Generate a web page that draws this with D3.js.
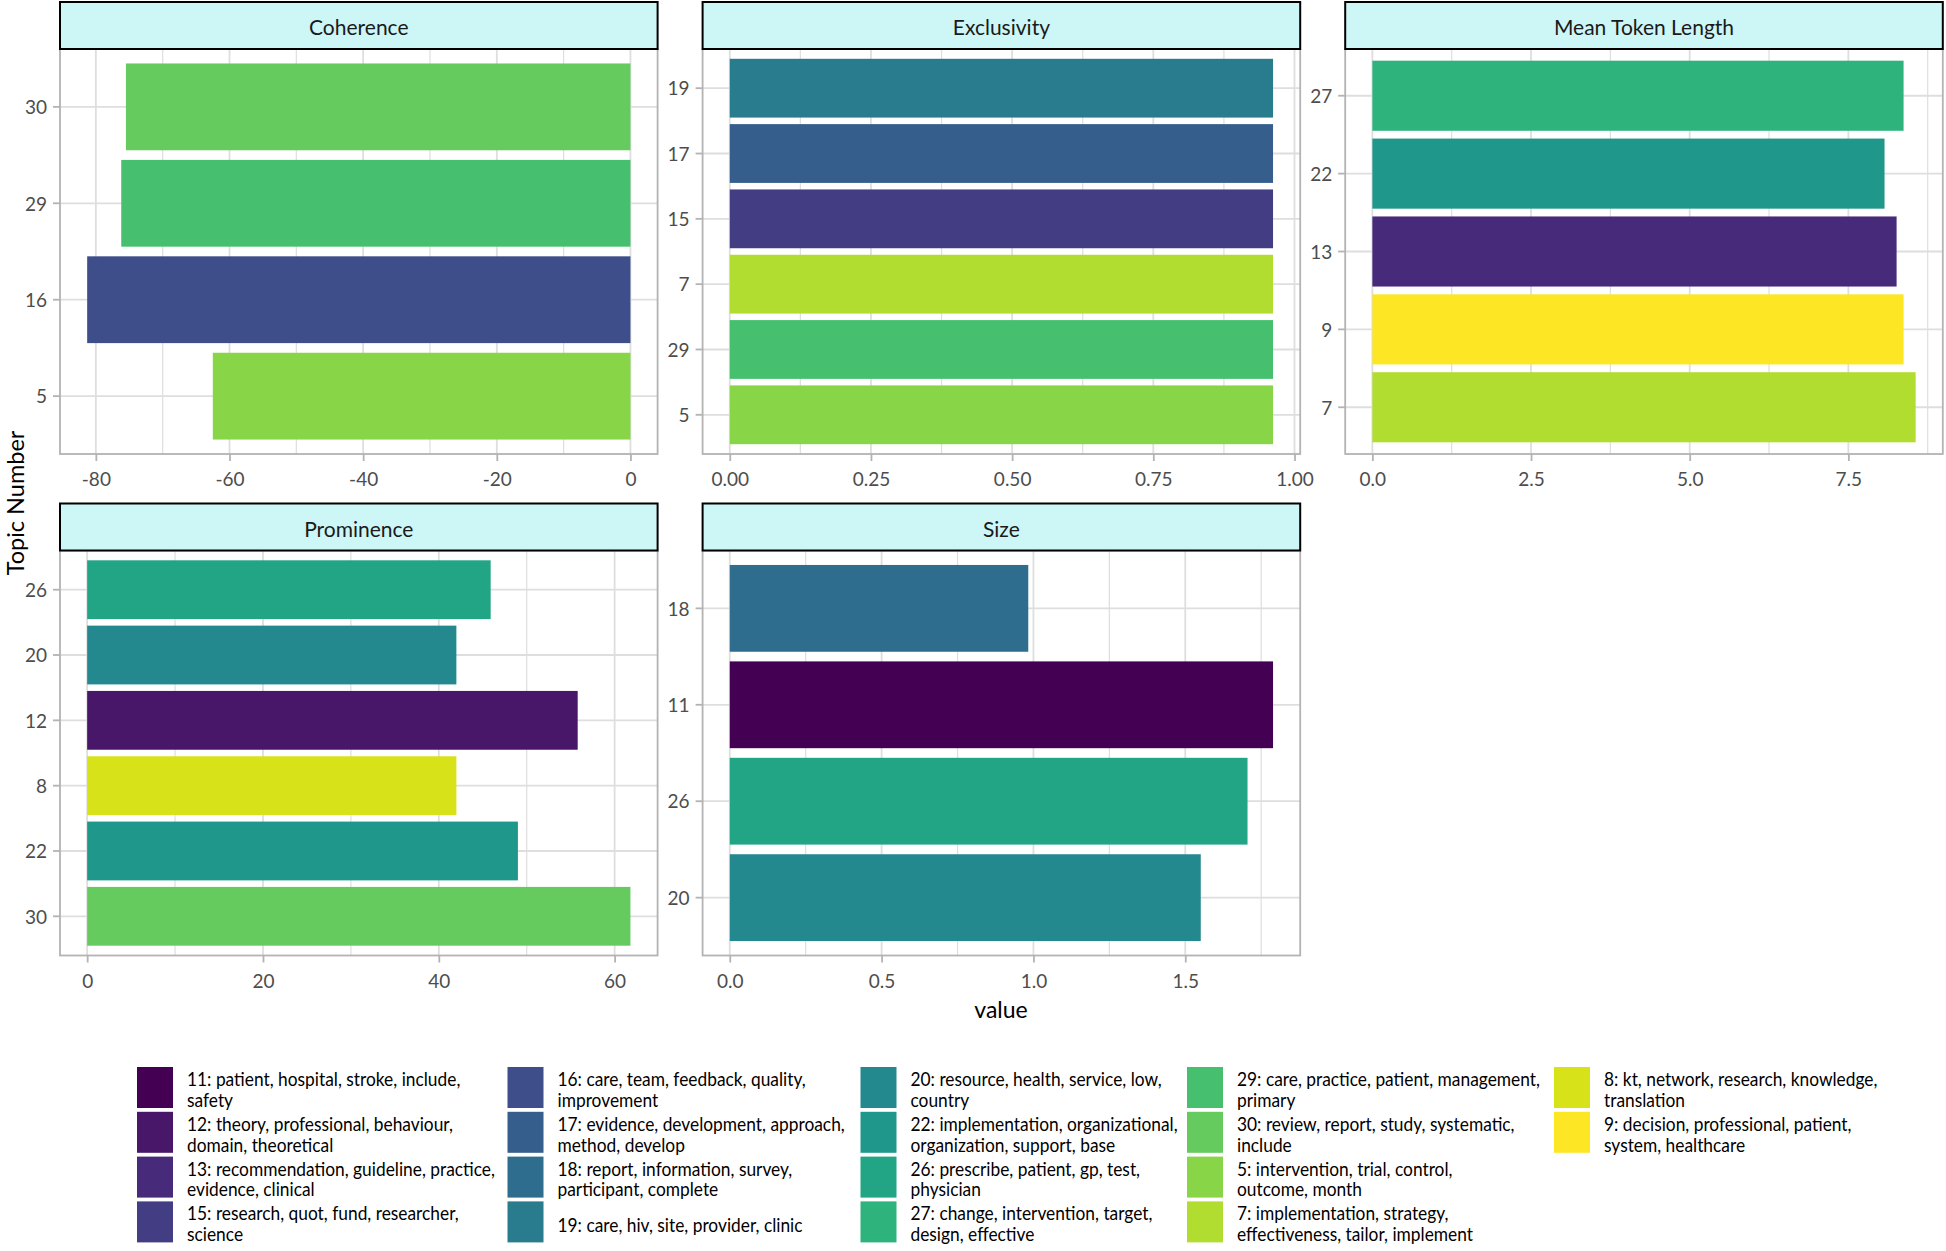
<!DOCTYPE html>
<html><head><meta charset="utf-8">
<script src="https://cdn.jsdelivr.net/npm/d3@7"></script>
<style>
html,body{margin:0;padding:0;background:#fff;}
svg{display:block;font-family:Lato,"Open Sans",sans-serif;}
</style>
</head><body>
<svg id="chart" width="1946" height="1251"></svg>
<script>
// ---------- DATA (topics listed top to bottom in each facet) ----------
const coherenceTopics = ["30", "29", "16", "5"];
const coherenceValues = [-75.5, -76.2, -81.3, -62.5];
const coherenceTicks = [-80, -60, -40, -20, 0];
const coherenceTickLabels = ["-80", "-60", "-40", "-20", "0"];

const exclusivityTopics = ["19", "17", "15", "7", "29", "5"];
const exclusivityValues = [0.962, 0.962, 0.962, 0.962, 0.962, 0.962];
const exclusivityTicks = [0, 0.25, 0.5, 0.75, 1];
const exclusivityTickLabels = ["0.00", "0.25", "0.50", "0.75", "1.00"];

const mtlTopics = ["27", "22", "13", "9", "7"];
const mtlValues = [8.37, 8.07, 8.26, 8.37, 8.56];
const mtlTicks = [0, 2.5, 5, 7.5];
const mtlTickLabels = ["0.0", "2.5", "5.0", "7.5"];

const prominenceTopics = ["26", "20", "12", "8", "22", "30"];
const prominenceValues = [45.9, 42.0, 55.8, 42.0, 49.0, 61.8];
const prominenceTicks = [0, 20, 40, 60];
const prominenceTickLabels = ["0", "20", "40", "60"];

const sizeTopics = ["18", "11", "26", "20"];
const sizeValues = [0.983, 1.789, 1.705, 1.551];
const sizeTicks = [0, 0.5, 1, 1.5];
const sizeTickLabels = ["0.0", "0.5", "1.0", "1.5"];

const facetTitles = ["Coherence", "Exclusivity", "Mean Token Length", "Prominence", "Size"];

const legendTopics = ["11","12","13","15","16","17","18","19","20","22","26","27","29","30","5","7","8","9"];
const legendLabels = [
  ["11: patient, hospital, stroke, include,", "safety"],
  ["12: theory, professional, behaviour,", "domain, theoretical"],
  ["13: recommendation, guideline, practice,", "evidence, clinical"],
  ["15: research, quot, fund, researcher,", "science"],
  ["16: care, team, feedback, quality,", "improvement"],
  ["17: evidence, development, approach,", "method, develop"],
  ["18: report, information, survey,", "participant, complete"],
  ["19: care, hiv, site, provider, clinic"],
  ["20: resource, health, service, low,", "country"],
  ["22: implementation, organizational,", "organization, support, base"],
  ["26: prescribe, patient, gp, test,", "physician"],
  ["27: change, intervention, target,", "design, effective"],
  ["29: care, practice, patient, management,", "primary"],
  ["30: review, report, study, systematic,", "include"],
  ["5: intervention, trial, control,", "outcome, month"],
  ["7: implementation, strategy,", "effectiveness, tailor, implement"],
  ["8: kt, network, research, knowledge,", "translation"],
  ["9: decision, professional, patient,", "system, healthcare"]
];

const yAxisTitle = "Topic Number";
const xAxisTitle = "value";

// ---------- LAYOUT ----------
const svg = d3.select("#chart");
const colX = [60, 702.6, 1345.2], rowY = [2, 503.5];
const panelW = 597.6, stripH = 47, plotH = 405;

const color = d3.scaleOrdinal()
  .domain(legendTopics)
  .range(legendTopics.map((d, i) => d3.interpolateViridis(i / (legendTopics.length - 1))));

const panels = [
  {title: facetTitles[0], topics: coherenceTopics, values: coherenceValues, ticks: coherenceTicks, labels: coherenceTickLabels, col: 0, row: 0},
  {title: facetTitles[1], topics: exclusivityTopics, values: exclusivityValues, ticks: exclusivityTicks, labels: exclusivityTickLabels, col: 1, row: 0},
  {title: facetTitles[2], topics: mtlTopics, values: mtlValues, ticks: mtlTicks, labels: mtlTickLabels, col: 2, row: 0},
  {title: facetTitles[3], topics: prominenceTopics, values: prominenceValues, ticks: prominenceTicks, labels: prominenceTickLabels, col: 0, row: 1},
  {title: facetTitles[4], topics: sizeTopics, values: sizeValues, ticks: sizeTicks, labels: sizeTickLabels, col: 1, row: 1}
];

const gridColor = "#dedede", borderColor = "#b3b3b3", tickTextColor = "#4d4d4d";

panels.forEach(p => {
  const x0 = colX[p.col], y0 = rowY[p.row];
  const top = y0 + stripH, bottom = top + plotH;
  const lo = Math.min(0, d3.min(p.values)), hi = Math.max(0, d3.max(p.values));
  const pad = (hi - lo) * 0.05;
  const x = d3.scaleLinear().domain([lo - pad, hi + pad]).range([x0, x0 + panelW]);
  const y = d3.scaleBand().domain(p.topics).range([top, bottom]).paddingInner(0.1).paddingOuter(0.15);
  const g = svg.append("g");

  // minor grid
  const step = p.ticks[1] - p.ticks[0];
  const minors = [];
  for (let t = p.ticks[0] - step / 2; t <= hi + pad; t += step) {
    if (t >= lo - pad) minors.push(t);
  }
  g.selectAll(".minor").data(minors).join("line")
    .attr("x1", d => x(d)).attr("x2", d => x(d)).attr("y1", top).attr("y2", bottom)
    .attr("stroke", gridColor).attr("stroke-width", 1.2);
  // major grid
  g.selectAll(".majx").data(p.ticks).join("line")
    .attr("x1", d => x(d)).attr("x2", d => x(d)).attr("y1", top).attr("y2", bottom)
    .attr("stroke", gridColor).attr("stroke-width", 1.8);
  g.selectAll(".majy").data(p.topics).join("line")
    .attr("y1", d => y(d) + y.bandwidth() / 2).attr("y2", d => y(d) + y.bandwidth() / 2)
    .attr("x1", x0).attr("x2", x0 + panelW)
    .attr("stroke", gridColor).attr("stroke-width", 1.8);

  // bars
  g.selectAll(".bar").data(p.topics.map((t, i) => ({t, v: p.values[i]}))).join("rect")
    .attr("x", d => x(Math.min(0, d.v)))
    .attr("width", d => Math.abs(x(d.v) - x(0)))
    .attr("y", d => y(d.t)).attr("height", y.bandwidth())
    .attr("fill", d => color(d.t));

  // border
  g.append("rect").attr("x", x0).attr("y", top).attr("width", panelW).attr("height", plotH)
    .attr("fill", "none").attr("stroke", borderColor).attr("stroke-width", 1.8);

  // strip
  g.append("rect").attr("x", x0).attr("y", y0).attr("width", panelW).attr("height", stripH)
    .attr("fill", "#cdf6f7").attr("stroke", "#000").attr("stroke-width", 2);
  g.append("text").attr("x", x0 + panelW / 2).attr("y", y0 + 33)
    .attr("text-anchor", "middle").attr("font-size", 21).attr("fill", "#1a1a1a").text(p.title);

  // axes
  const xa = g.append("g").attr("transform", `translate(0,${bottom})`)
    .call(d3.axisBottom(x).tickValues(p.ticks).tickFormat((d, i) => p.labels[i]).tickSize(7).tickPadding(12));
  const ya = g.append("g").attr("transform", `translate(${x0},0)`)
    .call(d3.axisLeft(y).tickSize(7).tickPadding(6));
  [xa, ya].forEach(a => {
    a.select(".domain").remove();
    a.selectAll(".tick line").attr("stroke", borderColor).attr("stroke-width", 1.8);
    a.selectAll(".tick text").attr("fill", tickTextColor).attr("font-size", 19).attr("font-family", "Lato");
  });
  ya.selectAll(".tick text").attr("dy", "0.38em");
});

// axis titles
svg.append("text").attr("transform", "translate(24,503) rotate(-90)")
  .attr("text-anchor", "middle").attr("font-size", 23.5).attr("fill", "#000").text(yAxisTitle);
svg.append("text").attr("x", 1001).attr("y", 1018)
  .attr("text-anchor", "middle").attr("font-size", 23).attr("fill", "#000").text(xAxisTitle);

// legend
const legColX = [137, 507.5, 860.5, 1187, 1554];
const legTop = 1067, legPitch = 44.8, keyW = 36, keyH = 41, nRow = 4;
const lg = svg.append("g");
const legendTexts = [];
legendTopics.forEach((t, i) => {
  const c = Math.floor(i / nRow), r = i % nRow;
  const kx = legColX[c], ky = legTop + r * legPitch;
  lg.append("rect").attr("x", kx).attr("y", ky).attr("width", keyW).attr("height", keyH).attr("fill", color(t));
  const lines = legendLabels[i];
  const txt = lg.append("text").attr("font-size", 19).attr("fill", "#000")
    .attr("data-x", kx + 50).attr("data-y", ky);
  if (lines.length === 1) {
    txt.append("tspan").attr("x", 0).attr("y", 31).text(lines[0]);
  } else {
    lines.forEach((l, j) => txt.append("tspan").attr("x", 0).attr("y", 19 + j * 20.8).text(l));
  }
  legendTexts.push(txt);
});
// horizontal condensing so the widest first-column line spans the reference width (308px)
const refLine = legendTexts[2].select("tspan").node().getComputedTextLength();
const k = Math.min(1, 308 / refLine);
legendTexts.forEach(txt => {
  txt.attr("transform", `translate(${txt.attr("data-x")},${txt.attr("data-y")}) scale(${k},1)`);
});
</script>
</body></html>
